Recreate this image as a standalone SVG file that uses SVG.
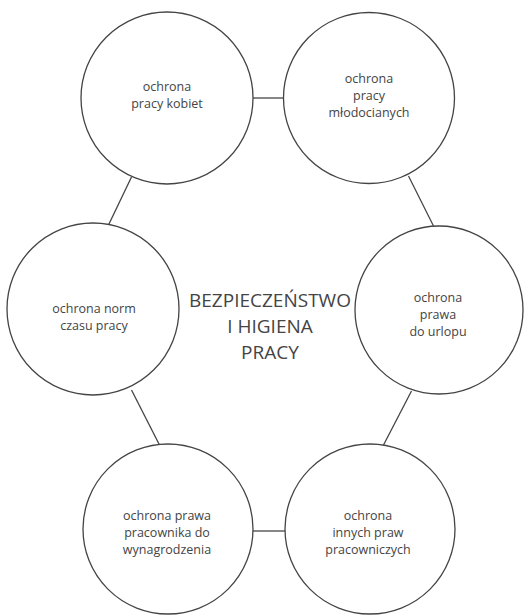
<svg xmlns="http://www.w3.org/2000/svg" width="530" height="615" viewBox="0 0 530 615">
<style>
.n{fill:#fff;stroke:#444;stroke-width:1.3}
.c{stroke:#444;stroke-width:1.3;fill:none}
.t{font-family:"Open Sans","Noto Sans","Liberation Sans",sans-serif;font-size:12.5px;fill:#444;text-anchor:middle}
.h{font-family:"Open Sans","Noto Sans","Liberation Sans",sans-serif;font-size:19px;fill:#444;text-anchor:middle}
</style>
<rect width="530" height="615" fill="#fff"/>
<g id="connectors">
<line class="c" x1="252" y1="98" x2="284" y2="98"/>
<line class="c" x1="131.5" y1="177" x2="108.5" y2="225"/>
<line class="c" x1="408.5" y1="176" x2="433.5" y2="226"/>
<line class="c" x1="131.5" y1="390" x2="159.5" y2="445"/>
<line class="c" x1="411.5" y1="391" x2="383.5" y2="445"/>
<line class="c" x1="253" y1="531" x2="285" y2="531"/>
</g>
<g id="center">
<text class="h" x="270" y="307">BEZPIECZEŃSTWO</text>
<text class="h" x="270" y="333">I HIGIENA</text>
<text class="h" x="270" y="359">PRACY</text>
</g>
<g id="n1">
<circle class="n" cx="167" cy="98" r="86"/>
<text class="t" x="167" y="91">ochrona</text>
<text class="t" x="167" y="108">pracy kobiet</text>
</g>
<g id="n2">
<circle class="n" cx="369" cy="98" r="85.5"/>
<text class="t" x="369" y="83">ochrona</text>
<text class="t" x="369" y="100">pracy</text>
<text class="t" x="369" y="117">młodocianych</text>
</g>
<g id="n3">
<circle class="n" cx="93" cy="309" r="86"/>
<text class="t" x="94" y="313">ochrona norm</text>
<text class="t" x="94" y="330">czasu pracy</text>
</g>
<g id="n4">
<circle class="n" cx="439" cy="310" r="84"/>
<text class="t" x="438" y="302">ochrona</text>
<text class="t" x="438" y="319">prawa</text>
<text class="t" x="438" y="336">do urlopu</text>
</g>
<g id="n5">
<circle class="n" cx="168" cy="529" r="85"/>
<text class="t" x="167" y="520">ochrona prawa</text>
<text class="t" x="167" y="537">pracownika do</text>
<text class="t" x="167" y="554">wynagrodzenia</text>
</g>
<g id="n6">
<circle class="n" cx="370" cy="529" r="85"/>
<text class="t" x="368" y="520">ochrona</text>
<text class="t" x="368" y="537">innych praw</text>
<text class="t" x="368" y="554">pracowniczych</text>
</g>
</svg>
